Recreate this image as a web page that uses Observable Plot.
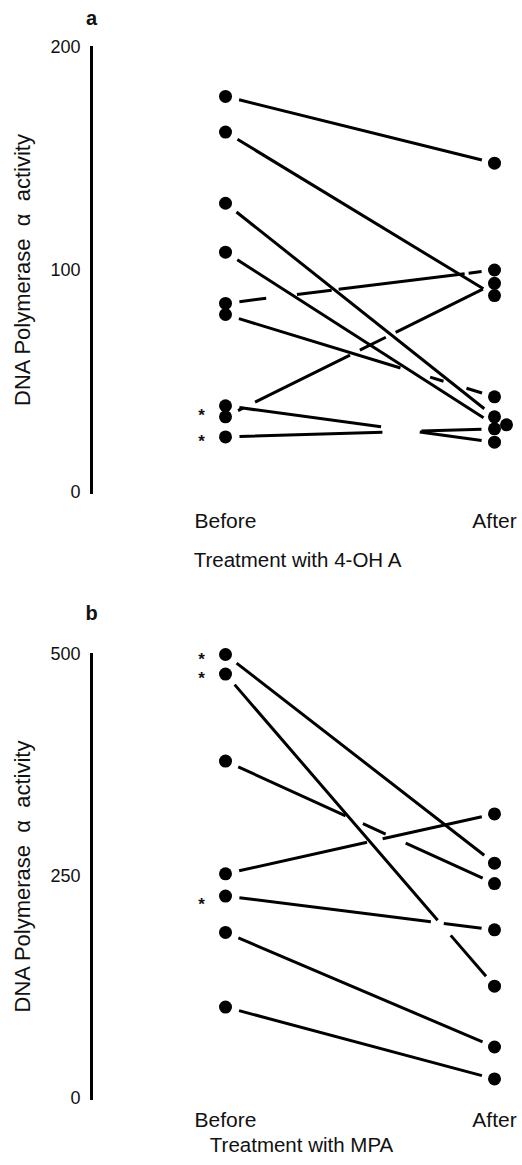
<!DOCTYPE html>
<html>
<head>
<meta charset="utf-8">
<script src="https://cdn.jsdelivr.net/npm/d3@7"></script>
<script src="https://cdn.jsdelivr.net/npm/@observablehq/plot@0.6"></script>
<style>
  html, body { margin: 0; padding: 0; background: #fff; }
  #chart { width: 522px; }
  #chart svg { display: block; }
</style>
</head>
<body>
<div id="chart"></div>
<script>
// ---- data ----
const groups = ["Before", "After"];

// Panel a: Treatment with 4-OH A
const yTicksA = [0, 100, 200];
const beforeA = [178, 162, 130, 108, 85, 80, 39, 34, 25];
const afterA  = [148, 88.5, 34, 30.4, 100, 43, 22.6, 94, 28.6];
const starsA  = [37, 25];

// Panel b: Treatment with MPA
const yTicksB = [0, 250, 500];
const beforeB = [500, 478, 380, 253, 228, 187, 103];
const afterB  = [265, 126.5, 242, 320.5, 190, 58, 22];
const starsB  = [500, 478, 224];

const yLabel = "DNA Polymerase  \u03b1  activity";

// ---- styles (kept apart from the data) ----
const dashA = [null, null, null, null, "27,31,35,7,127,4,20", "169,31,14,24,30", "143,39,300", "6,13,106,11,29,11,300", "143,39,300"];
const dashB = [null, "311,20,300", "118,19,25,22,300", "131,16,185,14,300", "193,13,300", null, null];
const font = "Liberation Sans, Arial, Helvetica, sans-serif";

function panel({letter, caption, before, after, stars, ticks, dashes, height, top, bottom, capDx, capDy, letterDy, tickPad, nudge}) {
  const rows = before.map((b, i) => ({before: b, after: after[i], i}));
  const lines = rows.map((d, i) => Plot.arrow([d], {
    x1: () => "Before", y1: "before",
    x2: () => "After", y2: "after",
    headLength: 0, insetStart: 14, insetEnd: 13,
    stroke: "#000", strokeWidth: 3, strokeLinecap: "butt",
    strokeDasharray: dashes[i] || undefined
  }));
  return Plot.plot({
    width: 522, height,
    marginLeft: 91, marginRight: 0, marginTop: top, marginBottom: height - bottom,
    style: {fontFamily: font, color: "#111", background: "#fff", overflow: "visible"},
    x: {type: "point", domain: groups, range: [225, 494], padding: 0},
    y: {domain: [0, ticks[ticks.length - 1]], range: [bottom, top]},
    marks: [
      Plot.frame({anchor: "left", stroke: "#000", strokeWidth: 3}),
      Plot.axisY(ticks, {tickSize: 0, tickPadding: 11, fontSize: 18, label: null}),
      Plot.axisX({tickSize: 0, tickPadding: tickPad, fontSize: 21, label: null}),
      ...lines,
      Plot.dot(rows, {x: () => "Before", y: "before", r: 6.5, fill: "#000"}),
      Plot.dot(rows.filter(d => d.i !== nudge), {x: () => "After", y: "after", r: 6.5, fill: "#000"}),
      Plot.dot(rows.filter(d => d.i === nudge), {x: () => "After", y: "after", r: 6.5, fill: "#000", dx: 12}),
      Plot.text(stars, {x: () => "Before", y: d => d, text: () => "*", dx: -24, dy: 5, fontSize: 17, fontWeight: "bold", lineAnchor: "middle"}),
      Plot.text([letter], {frameAnchor: "top-left", text: d => d, dy: letterDy, fontSize: 20, fontWeight: "bold", textAnchor: "middle", lineAnchor: "middle"}),
      Plot.text([yLabel], {frameAnchor: "left", text: d => d, rotate: -90, dx: -69, fontSize: 22, textAnchor: "middle", lineAnchor: "middle"}),
      Plot.text([caption], {frameAnchor: "bottom", text: d => d, dx: capDx, dy: capDy, fontSize: 20.5, textAnchor: "middle", lineAnchor: "middle"})
    ]
  });
}

const chart = document.getElementById("chart");
chart.append(panel({
  letter: "a", caption: "Treatment with 4-OH A",
  before: beforeA, after: afterA, stars: starsA, ticks: yTicksA, dashes: dashA,
  height: 600, top: 47, bottom: 492, capDx: -9.5, capDy: 68, letterDy: -29, tickPad: 21, nudge: 3
}));
chart.append(panel({
  letter: "b", caption: "Treatment with MPA",
  before: beforeB, after: afterB, stars: starsB, ticks: yTicksB, dashes: dashB,
  height: 565, top: 54, bottom: 498, capDx: -5.5, capDy: 47, letterDy: -41, tickPad: 14, nudge: -1
}));
</script>
</body>
</html>
